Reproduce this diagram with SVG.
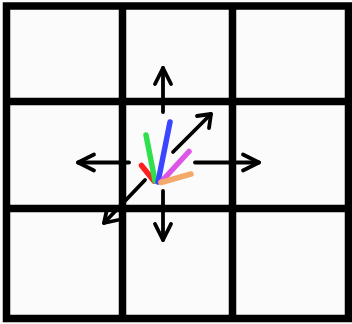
<svg xmlns="http://www.w3.org/2000/svg" width="352" height="324" viewBox="0 0 352 324">
  <style>
    .grid { fill: none; stroke: #000; stroke-width: 7.5; }
    .arrow { fill: none; stroke: #000; stroke-width: 3.8; stroke-linecap: round; stroke-linejoin: round; }
    .ray { fill: none; stroke-width: 5.5; stroke-linecap: round; }
  </style>
  <rect x="0" y="0" width="352" height="324" fill="#fbfbfb"/>
  <g id="grid">
    <rect class="grid" x="6.5" y="6" width="342" height="312.5"/>
    <line class="grid" x1="122.5" y1="6" x2="122.5" y2="318.5"/>
    <line class="grid" x1="232.5" y1="6" x2="232.5" y2="318.5"/>
    <line class="grid" x1="6.5" y1="101.5" x2="348.5" y2="101.5"/>
    <line class="grid" x1="6.5" y1="208.5" x2="348.5" y2="208.5"/>
  </g>
  <g id="connectors">
    <g id="arrow-up">
      <line class="arrow" x1="163" y1="112" x2="163" y2="68"/>
      <polyline class="arrow" points="155,84 163,68 171,84"/>
    </g>
    <g id="arrow-down">
      <line class="arrow" x1="163" y1="191" x2="163" y2="240"/>
      <polyline class="arrow" points="155,224 163,240 171,224"/>
    </g>
    <g id="arrow-left">
      <line class="arrow" x1="129" y1="162.5" x2="78" y2="162.5"/>
      <polyline class="arrow" points="94,154.5 78,162.5 94,170.5"/>
    </g>
    <g id="arrow-right">
      <line class="arrow" x1="195" y1="162.5" x2="259" y2="162.5"/>
      <polyline class="arrow" points="243,154.5 259,162.5 243,170.5"/>
    </g>
    <g id="arrow-ne">
      <line class="arrow" x1="173" y1="152" x2="211" y2="114"/>
      <polyline class="arrow" points="197,116 211,114 209,128"/>
    </g>
    <g id="arrow-sw">
      <line class="arrow" x1="145" y1="180" x2="104" y2="223"/>
      <polyline class="arrow" points="107,209 104,223 118,220"/>
    </g>
  </g>
  <g id="rays">
    <line class="ray" stroke="#ff1f1f" x1="141.5" y1="165.5" x2="154" y2="181"/>
    <line class="ray" stroke="#2fe04d" x1="146" y1="135" x2="155" y2="181"/>
    <line class="ray" stroke="#3a46ff" x1="170" y1="122" x2="158" y2="182"/>
    <line class="ray" stroke="#dc55e6" x1="189" y1="151.5" x2="161" y2="182"/>
    <line class="ray" stroke="#f2a96a" x1="191" y1="174" x2="161" y2="182.5"/>
  </g>
</svg>
